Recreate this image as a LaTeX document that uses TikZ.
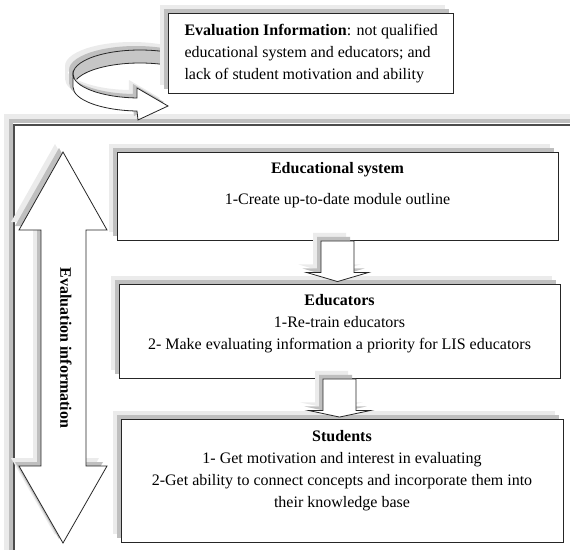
\documentclass[tikz,border=0pt]{standalone}
\usepackage{fontspec}
\setmainfont{Liberation Serif}
\usetikzlibrary{calc}
\begin{document}
\begin{tikzpicture}[x=1pt, y=-1pt,
  font=\fontsize{16pt}{22pt}\selectfont,
  softshadow/.style={
    preaction={fill=gray!16, draw=none, transform canvas={shift={(-8pt,8pt)}}},
    preaction={fill=gray!50, draw=none, transform canvas={shift={(-4pt,4pt)}}}},
  panel/.style={rectangle, draw=black!85, line width=0.9pt, fill=white, softshadow, inner sep=0pt},
  blockarrow/.style={draw=black!85, line width=0.8pt, fill=white, softshadow, line join=miter},
  ribbonback/.style={draw=black!85, line width=0.8pt, fill=gray!45, softshadow},
  ribbonfront/.style={draw=black!85, line width=0.8pt, fill=white, softshadow, line join=miter},
  heading/.style={font=\fontsize{16pt}{22pt}\selectfont\bfseries},
  lines/.style={align=center}]
\useasboundingbox (0,0) rectangle (570,549);

% outer frame, open towards the right and bottom edges
\begin{scope}
  \clip (0,0) rectangle (570,549);
  \draw[gray!16, line width=5pt, line join=miter] (6.5,600) -- (6.5,116.5) -- (600,116.5);
  \draw[gray!50, line width=4pt, line join=miter] (10.5,600) -- (10.5,120.5) -- (600,120.5);
  \draw[black!70, line width=2pt, line join=miter] (13.5,600) -- (13.5,124.5) -- (600,124.5);
\end{scope}

% curved feedback ribbon: inner face behind, outer face with head in front
\filldraw[ribbonback] (168,52.2) arc[start angle=-65.3, end angle=-180, x radius=67, y radius=24]
  -- (73,87) arc[start angle=180, end angle=294.7, x radius=67, y radius=24] -- cycle;
\filldraw[ribbonfront] (73,74) arc[start angle=180, end angle=92.6, x radius=67, y radius=24]
  -- (137,88) -- (168,106) -- (138,120) -- (137,111)
  arc[start angle=92.6, end angle=180, x radius=67, y radius=24] -- cycle;

% feedback note
\node[panel, minimum width=285pt, minimum height=80pt] (note) at (310.5,53) {};
\node[align=left, anchor=west] (notetext) at (181,54)
  {\textbf{Evaluation Information}: not qualified\\educational system and educators; and\\lack of student motivation and ability};

% two-headed arrow on the left
\filldraw[blockarrow] (63,152) -- (107,230) -- (86,230) -- (86,466) -- (107,466) -- (63,543)
  -- (19,466) -- (41,466) -- (41,230) -- (19,230) -- cycle;
\node[heading, rotate=-90] (evlabel) at (66,348) {Evaluation information};

% the three levels
\node[panel, minimum width=441pt, minimum height=88pt] (b1) at (337.5,196) {};
\node[heading] (b1title) at (337.5,170) {Educational system};
\node (b1text) at (337.5,201) {1-Create up-to-date module outline};

\node[panel, minimum width=441pt, minimum height=94pt] (b2) at (339.5,331) {};
\node[lines] (b2text) at (339.5,324) {\textbf{Educators}\\1-Re-train educators\\2- Make evaluating information a priority for LIS educators};

\node[panel, minimum width=442pt, minimum height=123pt] (b3) at (342,480.5) {};
\node[lines] (b3text) at (342,471) {\textbf{Students}\\1- Get motivation and interest in evaluating\\2-Get ability to connect concepts and incorporate them into\\their knowledge base};

% block arrows between the levels
\filldraw[blockarrow] ($(b1.south)+(-16.5,0.5)$) -- ($(b1.south)+(-16.5,32)$) -- ($(b1.south)+(-31,32)$)
  -- ($(b1.south |- b2.north)+(0,-2)$) -- ($(b1.south)+(31,32)$) -- ($(b1.south)+(16.5,32)$)
  -- ($(b1.south)+(16.5,0.5)$) -- cycle;
\filldraw[blockarrow] ($(b2.south)+(-16.5,0.5)$) -- ($(b2.south)+(-16.5,32)$) -- ($(b2.south)+(-31,32)$)
  -- ($(b2.south |- b3.north)+(0,-1.5)$) -- ($(b2.south)+(31,32)$) -- ($(b2.south)+(16.5,32)$)
  -- ($(b2.south)+(16.5,0.5)$) -- cycle;
\end{tikzpicture}
\end{document}
